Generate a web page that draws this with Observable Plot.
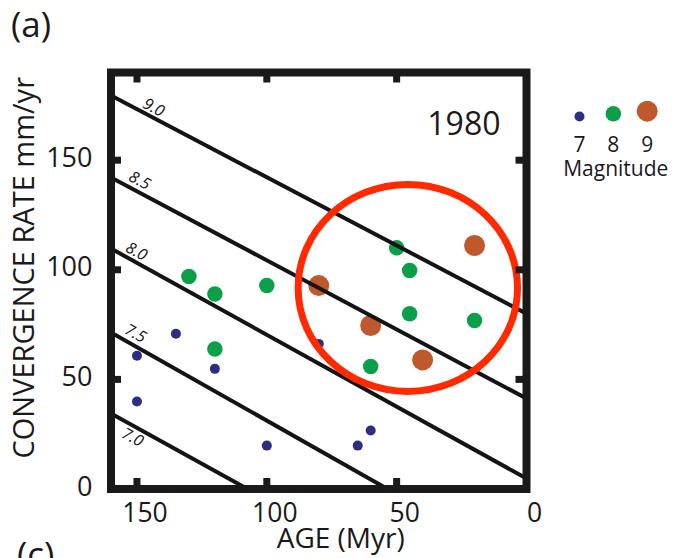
<!DOCTYPE html>
<html><head><meta charset="utf-8">
<script src="https://cdn.jsdelivr.net/npm/d3@7"></script>
<script src="https://cdn.jsdelivr.net/npm/@observablehq/plot@0.6"></script>
<style>
html,body{margin:0;padding:0;background:#fff;overflow:hidden;}
#wrap{position:relative;width:681px;height:558px;overflow:hidden;background:#fff;}
</style></head><body><div id="wrap"></div>
<script>
// Earthquakes: age (Myr), convergence rate (mm/yr), magnitude class
const ages  = [130, 120, 100, 80, 135, 120, 150, 120, 150, 100, 80, 45, 45, 20, 60, 60, 40, 60, 65, 50, 20];
const rates = [96.9, 89.0, 92.8, 92.8, 70.8, 63.9, 60.8, 54.8, 39.9, 19.8, 66.2, 99.7, 79.9, 76.9, 74.6, 55.9, 58.9, 26.7, 19.8, 110.0, 111.1];
const mags  = [8, 8, 8, 9, 7, 8, 7, 7, 7, 7, 7, 8, 8, 8, 9, 8, 9, 7, 7, 8, 9];

const magnitudes = [7, 8, 9];
const magColors = ["#2b2e83", "#0c9f4a", "#c0582e"];

// Iso-magnitude lines (endpoints read at the frame edges)
const lineLabels    = ["9.0", "8.5", "8.0", "7.5", "7.0"];
const lineAgeStart  = [160, 160, 160, 160, 160];
const lineRateStart = [179.5, 142.1, 109.7, 71.4, 34.4];
const lineAgeEnd    = [0, 0, 0, 53.5, 107.4];
const lineRateEnd   = [80.0, 41.3, 4.8, 0, 0];
const labelAge      = [143.6, 149.0, 150.2, 150.6, 151.7];
const labelRate     = [174.0, 140.7, 108.3, 70.9, 23.5];

const xTicks = [150, 100, 50, 0];
const yTicks = [0, 50, 100, 150];

const ringAge = [45.7];
const ringRate = [91.7];
const yearLabel = "1980";

const quakes = ages.map((a, i) => ({age: a, rate: rates[i], mag: mags[i]}));
const isoLines = lineLabels.map((l, i) => ({
  label: l, a1: lineAgeStart[i], r1: lineRateStart[i], a2: lineAgeEnd[i], r2: lineRateEnd[i],
  la: labelAge[i], lr: labelRate[i]
}));
const ring = ringAge.map((a, i) => ({age: a, rate: ringRate[i]}));

const ellipseSymbol = {
  draw(ctx) {
    const rx = 109.7, ry = 103.5, k = 0.5523;
    ctx.moveTo(rx, 0);
    ctx.bezierCurveTo(rx, k * ry, k * rx, ry, 0, ry);
    ctx.bezierCurveTo(-k * rx, ry, -rx, k * ry, -rx, 0);
    ctx.bezierCurveTo(-rx, -k * ry, -k * rx, -ry, 0, -ry);
    ctx.bezierCurveTo(k * rx, -ry, rx, -k * ry, rx, 0);
    ctx.closePath();
  }
};

const FONT = "'Open Sans', 'DejaVu Sans', sans-serif";
const INK = "#1a1a1a";

const main = Plot.plot({
  width: 681, height: 558,
  marginLeft: 110.5, marginRight: 155, marginTop: 72, marginBottom: 69.5,
  style: {fontFamily: FONT, overflow: "hidden", background: "#fff", color: INK},
  x: {domain: [160, 0]},
  y: {domain: [0, 190]},
  r: {type: "linear", domain: [7, 9], range: [5, 10.5]},
  color: {type: "ordinal", domain: magnitudes, range: magColors},
  marks: [
    Plot.dot(quakes, {x: "age", y: "rate", r: "mag", fill: "mag", stroke: "none"}),
    Plot.link(isoLines, {x1: "a1", y1: "r1", x2: "a2", y2: "r2", stroke: "#141414", strokeWidth: 4}),
    Plot.text(isoLines, {x: "la", y: "lr", text: "label", rotate: 28, fontSize: 16, fontStyle: "italic", fill: "#141414"}),
    Plot.dot(ring, {x: "age", y: "rate", r: 100, symbol: ellipseSymbol, stroke: "#ff2a00", strokeWidth: 7, fill: "none"}),
    Plot.frame({stroke: INK, strokeWidth: 8}),
    Plot.tickX(xTicks.filter(d => d !== 0), {x: d => d, insetTop: 406, stroke: INK, strokeWidth: 7}),
    Plot.tickX(xTicks.filter(d => d !== 0), {x: d => d, insetBottom: 406, stroke: INK, strokeWidth: 7}),
    Plot.tickY(yTicks.filter(d => d !== 0), {y: d => d, insetRight: 405, stroke: INK, strokeWidth: 7}),
    Plot.tickY(yTicks.filter(d => d !== 0), {y: d => d, insetLeft: 405, stroke: INK, strokeWidth: 7}),
    Plot.axisX({ticks: xTicks, anchor: "bottom", tickSize: 0, tickPadding: 14, fontSize: 26.5, dx: 8, label: null}),
    Plot.axisY({ticks: yTicks, anchor: "left", tickSize: 0, tickPadding: 18.5, fontSize: 27, dy: -2, label: null}),
    Plot.text([yearLabel], {text: d => d, frameAnchor: "top-right", dx: -26, dy: 40, fontSize: 32, fill: INK}),
    Plot.text(["AGE (Myr)"], {text: d => d, frameAnchor: "bottom", lineAnchor: "bottom", dx: 22, dy: 59, fontSize: 28, fill: INK}),
    Plot.text(["CONVERGENCE RATE mm/yr"], {text: d => d, frameAnchor: "left", textAnchor: "middle", lineAnchor: "bottom", rotate: -90, dx: -77.5, dy: -13, fontSize: 29, fill: INK}),
    Plot.text(["(a)"], {text: d => d, frameAnchor: "top-left", textAnchor: "start", lineAnchor: "bottom", dx: -100, dy: -36, fontSize: 35, fill: INK}),
    Plot.text(["(c)"], {text: d => d, frameAnchor: "bottom-left", textAnchor: "start", lineAnchor: "bottom", dx: -94, dy: 78, fontSize: 35, fill: INK})
  ]
});

const legend = Plot.plot({
  width: 141, height: 100, margin: 0,
  style: {fontFamily: FONT, overflow: "visible", background: "transparent", color: INK},
  x: {domain: [7, 9], range: [39, 106.7], axis: null},
  y: {domain: [7, 9], range: [26, 20.7], axis: null},
  r: {type: "linear", domain: [7, 9], range: [5, 10.5]},
  color: {type: "ordinal", domain: magnitudes, range: magColors},
  marks: [
    Plot.dot(magnitudes, {x: d => d, y: d => d, r: d => d, fill: d => d, stroke: "none"}),
    Plot.text(magnitudes, {x: d => d, text: d => String(d), frameAnchor: "top", lineAnchor: "bottom", dy: 61.7, fontSize: 21, fill: INK}),
    Plot.text(["Magnitude"], {text: d => d, frameAnchor: "top", lineAnchor: "bottom", dx: 4.8, dy: 85.5, fontSize: 21, fill: INK})
  ]
});
legend.style.position = "absolute";
legend.style.left = "540px";
legend.style.top = "90px";

const wrap = document.getElementById("wrap");
wrap.appendChild(main);
wrap.appendChild(legend);
</script>
</body></html>
